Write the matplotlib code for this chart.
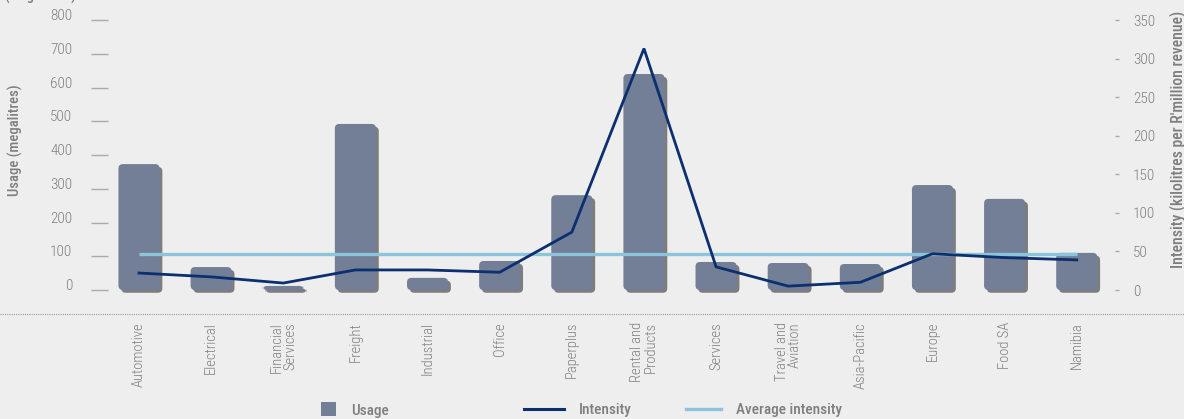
import matplotlib
matplotlib.use("Agg")
import matplotlib.pyplot as plt
from matplotlib.patches import FancyBboxPatch, Patch
from matplotlib.lines import Line2D
import matplotlib.patheffects as pe

categories = ["Automotive", "Electrical", "Financial\nServices", "Freight", "Industrial",
              "Office", "Paperplus", "Rental and\nProducts", "Services", "Travel and\nAviation",
              "Asia-Pacific", "Europe", "Food SA", "Namibia"]
usage = [373, 68, 12, 492, 36, 86, 281, 640, 83, 80, 77, 311, 270, 110]
intensity = [22, 17, 9, 26, 26, 23, 75, 313, 30, 5, 10, 47, 42, 39]
average_intensity = 47
left_ticks = [0, 100, 200, 300, 400, 500, 600, 700, 800]
right_ticks = [0, 50, 100, 150, 200, 250, 300, 350]

BG = "#eeeeee"
BAR = "#737f96"
NAVY = "#0b2f6f"
LIGHT = "#8cc4da"
TXT = "#7f7f7f"
FONT = ["Roboto Condensed", "DejaVu Sans"]
plt.rcParams["font.family"] = FONT

W, H = 1184, 419
fig = plt.figure(figsize=(W / 100, H / 100), dpi=100, facecolor=BG)
ax_l, ax_r, ax_t, ax_b = 108, 1115, 20, 290
ax = fig.add_axes([ax_l / W, 1 - ax_b / H, (ax_r - ax_l) / W, (ax_b - ax_t) / H])
ax.set_facecolor(BG)
ax2 = ax.twinx()

x = list(range(len(categories)))
bars = ax.bar(x, usage, width=0.57, color=BAR, zorder=2)
ax.set_xlim(-0.43, 13.53)
ax.set_ylim(0, 800)
ax2.set_ylim(0, 350)

# rounded bars with shadow built from the bar rectangles
px_x = (ax_r - ax_l) / (13.53 + 0.43)
px_y = (ax_b - ax_t) / 800
for r in bars:
    r.set_visible(False)
    fb = FancyBboxPatch((r.get_x(), r.get_y()), r.get_width(), r.get_height(),
                        boxstyle=f"round,pad=0,rounding_size={4.5 / px_x}",
                        mutation_aspect=px_x / px_y,
                        facecolor=BAR, edgecolor="none", zorder=2, clip_on=False,
                        path_effects=[pe.SimplePatchShadow(offset=(2, -2), shadow_rgbFace="#7d7d7d", alpha=1.0),
                                      pe.Normal()])
    ax.add_patch(fb)

ax2.plot([x[0], x[-1]], [average_intensity, average_intensity], color=LIGHT, lw=2.4, zorder=3,
         solid_capstyle="butt")
ax2.plot(x, intensity, color=NAVY, lw=2.0, zorder=4, solid_joinstyle="miter")

for a in (ax, ax2):
    for s in a.spines.values():
        s.set_visible(False)

ax.set_yticks(left_ticks)
ax.set_yticklabels([str(t) for t in left_ticks], fontweight="light")
ax.tick_params(axis="y", direction="out", length=12.2, width=1.0, color="#aaaaaa",
               pad=13.5, labelsize=11, labelcolor=TXT)
for lab in ax.get_yticklabels():
    lab.set_va("baseline")

ax2.set_yticks(right_ticks)
ax2.set_yticklabels([str(t) for t in right_ticks], fontweight="light")
ax2.tick_params(axis="y", direction="out", length=3, width=1.0, color="#aaaaaa",
                pad=10, labelsize=11, labelcolor=TXT)

ax.set_xticks(x)
ax.set_xticklabels(categories, rotation=90, fontsize=10.5, color=TXT, va="top",
                   ha="center", multialignment="right", fontweight="light", linespacing=0.95)
ax.tick_params(axis="x", length=0, pad=23)

# axis titles
fig.text(15 / W, 1 - 140 / H, "Usage (megalitres)", rotation=90, ha="center", va="center",
         fontsize=10.5, color=TXT, fontweight="medium")
fig.text(1178 / W, 1 - 268 / H, "Intensity (kilolitres per R'million revenue)", rotation=90,
         ha="center", va="bottom", fontsize=11.3, color=TXT, fontweight="medium")
fig.text(40 / W, 1 + 4 / H, "(megalitres)", ha="center", va="center", fontsize=10.5, color=TXT,
         fontweight="medium")

# dotted separator
fig.add_artist(Line2D([0, 1], [1 - 314 / H, 1 - 314 / H], transform=fig.transFigure,
                      color="#9a9a9a", lw=0.8, ls=(0, (1, 1))))

# legends
leg_kw = dict(frameon=False, labelcolor=TXT, loc="center left",
              handletextpad=1.0, borderpad=0, borderaxespad=0,
              prop={"family": FONT, "weight": "medium", "size": 11})
l1 = fig.legend(handles=[Patch(facecolor=BAR, label="Usage")], handlelength=1.0, handleheight=1.0,
                bbox_to_anchor=(321 / W, 1 - 410 / H), **leg_kw)
l2 = fig.legend(handles=[Line2D([], [], color=NAVY, lw=2.2, label="Intensity")], handlelength=2.6,
                bbox_to_anchor=(524 / W, 1 - 410 / H), **leg_kw)
l3 = fig.legend(handles=[Line2D([], [], color=LIGHT, lw=2.4, label="Average intensity")], handlelength=2.3,
                bbox_to_anchor=(686 / W, 1 - 410 / H), **leg_kw)

fig.savefig("out.png", dpi=100, facecolor=BG)
